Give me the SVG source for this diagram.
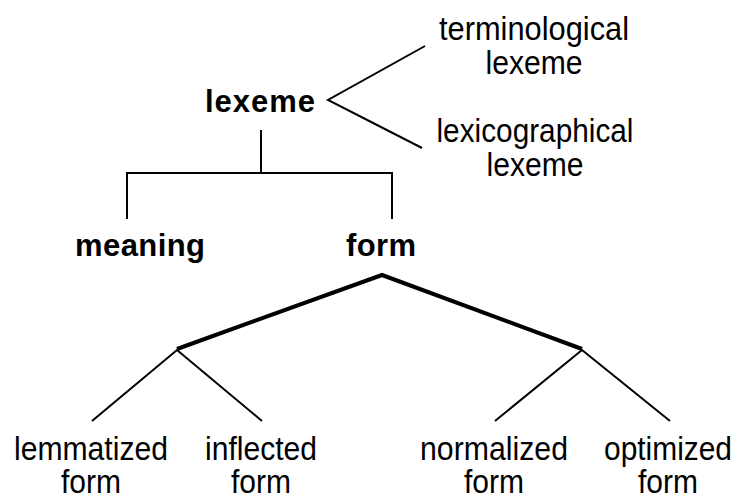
<svg xmlns="http://www.w3.org/2000/svg" width="738" height="498" viewBox="0 0 738 498">
<style>
.r{font-family:"Liberation Sans",Arial,sans-serif;font-size:33px;fill:#000;text-anchor:middle}
.b{font-family:"Liberation Sans",Arial,sans-serif;font-size:31px;font-weight:bold;fill:#000}
.c{fill:none;stroke:#000;stroke-width:2;stroke-linecap:butt;stroke-linejoin:miter}
.t{stroke-width:4}
</style>
<rect width="738" height="498" fill="#fff"/>
<g id="connectors">
<polyline class="c" points="425,46 328,100 422,148"/>
<line class="c" x1="261" y1="130" x2="261" y2="174"/>
<polyline class="c" points="127,219 127,173 392,173 392,219"/>
<polyline class="c t" points="177,349 382,275 582,349"/>
<polyline class="c" points="92,421 177,350 262,421"/>
<polyline class="c" points="495,421 582,350 670,421"/>
</g>
<g id="lexeme"><text class="b" x="205" y="112" textLength="110" lengthAdjust="spacing">lexeme</text></g>
<g id="terminological"><text class="r" x="534" y="40" textLength="190" lengthAdjust="spacingAndGlyphs">terminological</text><text class="r" x="534" y="74" textLength="97" lengthAdjust="spacingAndGlyphs">lexeme</text></g>
<g id="lexicographical"><text class="r" x="535" y="142" textLength="197" lengthAdjust="spacingAndGlyphs">lexicographical</text><text class="r" x="535" y="176" textLength="97" lengthAdjust="spacingAndGlyphs">lexeme</text></g>
<g id="meaning"><text class="b" x="75" y="256" textLength="130" lengthAdjust="spacing">meaning</text></g>
<g id="form"><text class="b" x="346" y="256" textLength="70" lengthAdjust="spacing">form</text></g>
<g id="lemmatized"><text class="r" x="91" y="460" textLength="154" lengthAdjust="spacingAndGlyphs">lemmatized</text><text class="r" x="91" y="493" textLength="60" lengthAdjust="spacingAndGlyphs">form</text></g>
<g id="inflected"><text class="r" x="261" y="460" textLength="112" lengthAdjust="spacingAndGlyphs">inflected</text><text class="r" x="261" y="493" textLength="60" lengthAdjust="spacingAndGlyphs">form</text></g>
<g id="normalized"><text class="r" x="494" y="460" textLength="148" lengthAdjust="spacingAndGlyphs">normalized</text><text class="r" x="494" y="493" textLength="60" lengthAdjust="spacingAndGlyphs">form</text></g>
<g id="optimized"><text class="r" x="668" y="460" textLength="128" lengthAdjust="spacingAndGlyphs">optimized</text><text class="r" x="668" y="493" textLength="60" lengthAdjust="spacingAndGlyphs">form</text></g>
</svg>
